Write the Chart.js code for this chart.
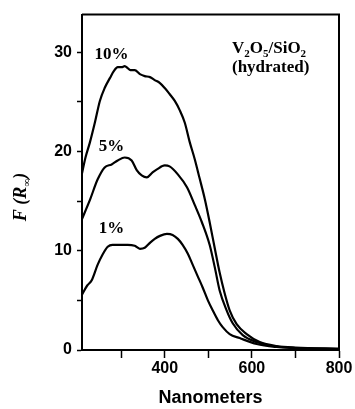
<!DOCTYPE html>
<html>
<head>
<meta charset="utf-8">
<script src="https://cdn.jsdelivr.net/npm/chart.js@4.4.1/dist/chart.umd.min.js"></script>
<style>
  html, body { margin: 0; padding: 0; background: #fff; }
  #wrap { width: 355px; height: 409px; }
</style>
</head>
<body>
<div id="wrap"><canvas id="myChart" width="355" height="409"></canvas></div>
<script>
// wavelength (nm) and F(R), one pair of arrays per loading
let nm10 = [209, 218, 228, 240, 251, 262, 274, 283, 292, 301, 308, 315, 321, 331, 343, 354, 366, 377, 389, 400, 411, 423, 434, 446, 457, 469, 480, 492, 503, 515, 526, 537, 549, 565, 588, 618, 657, 700, 800];
let f10 = [17.6, 19.4, 20.9, 23.0, 25.1, 26.4, 27.4, 28.1, 28.5, 28.5, 28.6, 28.4, 28.2, 28.2, 27.8, 27.6, 27.5, 27.2, 26.9, 26.4, 25.8, 25.1, 24.2, 22.9, 21.0, 19.2, 17.3, 15.2, 12.9, 10.2, 7.8, 5.8, 4.0, 2.6, 1.6, 0.8, 0.4, 0.25, 0.15];

let nm5 = [209, 228, 246, 262, 278, 292, 308, 324, 336, 347, 359, 372, 382, 400, 411, 430, 451, 469, 485, 503, 515, 526, 542, 556, 579, 611, 648, 700, 800];
let f5 = [13.1, 15.1, 17.2, 18.4, 18.7, 19.1, 19.4, 19.1, 18.1, 17.6, 17.4, 17.9, 18.2, 18.6, 18.5, 17.7, 16.4, 14.6, 12.9, 10.6, 8.3, 6.0, 4.0, 2.7, 1.5, 0.8, 0.4, 0.2, 0.1];

let nm1 = [209, 222, 232, 246, 257, 269, 280, 292, 315, 331, 343, 354, 366, 377, 389, 405, 418, 430, 441, 453, 464, 476, 487, 499, 510, 522, 533, 549, 572, 611, 657, 710, 800];
let f1 = [5.5, 6.5, 7.0, 8.6, 9.6, 10.4, 10.6, 10.6, 10.6, 10.5, 10.2, 10.3, 10.8, 11.2, 11.5, 11.7, 11.6, 11.2, 10.6, 9.7, 8.6, 7.4, 6.3, 5.0, 4.0, 3.0, 2.3, 1.6, 1.2, 0.6, 0.3, 0.15, 0.1];

let seriesNames = ["10%", "5%", "1%"];
let xTicks = [300, 400, 500, 600, 700, 800];
let yTicks = [0, 5, 10, 15, 20, 25, 30];

var sansFont = "'Liberation Sans', Arial, sans-serif";
var serifFont = "'Liberation Serif', 'Times New Roman', serif";

function pts(xs, ys) {
    return xs.map((x, i) => ({ x: x, y: ys[i] }));
}

function lineSet(name, xs, ys) {
    return {
        label: name,
        data: pts(xs, ys),
        borderColor: '#000',
        borderWidth: 2.2,
        pointRadius: 0,
        fill: false,
        tension: 0.4,
        cubicInterpolationMode: 'monotone'
    };
}

// frame, curve labels, sample name and rotated y title
let decorPlugin = {
    id: 'decor',
    afterDraw(chart) {
        let ctx = chart.ctx;
        let a = chart.chartArea;
        let xs = chart.scales.x;
        let ys = chart.scales.y;
        ctx.save();
        ctx.strokeStyle = '#000';
        ctx.lineWidth = 2;
        ctx.beginPath();
        ctx.moveTo(a.left, a.top);
        ctx.lineTo(a.right, a.top);
        ctx.lineTo(a.right, a.bottom);
        ctx.stroke();

        ctx.fillStyle = '#000';
        ctx.textBaseline = 'alphabetic';
        ctx.textAlign = 'center';
        ctx.font = 'bold 17px ' + serifFont;
        let cx = xs.getPixelForValue(278);
        ctx.fillText(seriesNames[0], cx, ys.getPixelForValue(29.3));
        ctx.fillText(seriesNames[1], cx, ys.getPixelForValue(20.1));
        ctx.fillText(seriesNames[2], cx, ys.getPixelForValue(11.8));

        // V2O5/SiO2 with subscripts
        ctx.textAlign = 'left';
        let x = 232, base = 53;
        let parts = [["V", 0], ["2", 1], ["O", 0], ["5", 1], ["/SiO", 0], ["2", 1]];
        parts.forEach(p => {
            ctx.font = p[1] ? 'bold 11px ' + serifFont : 'bold 17px ' + serifFont;
            ctx.fillText(p[0], x, p[1] ? base + 4 : base);
            x += ctx.measureText(p[0]).width;
        });
        ctx.font = 'bold 17px ' + serifFont;
        ctx.fillText("(hydrated)", 232, 72);

        // y title F(R∞)
        ctx.translate(26, 197);
        ctx.rotate(-Math.PI / 2);
        let t1 = "F (R", t2 = "\u221E", t3 = ")";
        ctx.font = 'italic bold 18px ' + serifFont;
        let w1 = ctx.measureText(t1).width;
        let w3 = ctx.measureText(t3).width;
        ctx.font = 'italic bold 11px ' + serifFont;
        let w2 = ctx.measureText(t2).width;
        let start = -(w1 + w2 + w3) / 2;
        ctx.font = 'italic bold 18px ' + serifFont;
        ctx.fillText(t1, start, 0);
        ctx.font = 'italic bold 11px ' + serifFont;
        ctx.fillText(t2, start + w1, 4);
        ctx.font = 'italic bold 18px ' + serifFont;
        ctx.fillText(t3, start + w1 + w2, 0);
        ctx.restore();
    }
};

let myChart = document.getElementById("myChart").getContext('2d');

let chart1 = new Chart(myChart, {
    type: 'line',
    data: {
        datasets: [
            lineSet(seriesNames[0], nm10, f10),
            lineSet(seriesNames[1], nm5, f5),
            lineSet(seriesNames[2], nm1, f1)
        ]
    },
    options: {
        responsive: false,
        animation: false,
        events: [],
        layout: { padding: { left: 0, top: 10, right: 16, bottom: 0 } },
        plugins: {
            legend: { display: false },
            tooltip: { enabled: false }
        },
        scales: {
            x: {
                type: 'linear',
                min: 210,
                max: 800,
                afterBuildTicks: s => { s.ticks = xTicks.map(v => ({ value: v })); },
                afterFit: s => { s.height = 59; },
                border: { color: '#000', width: 2 },
                grid: { drawOnChartArea: false, tickLength: 8, tickColor: '#000', tickWidth: 1.5 },
                ticks: {
                    color: '#000',
                    padding: 1,
                    maxRotation: 0,
                    autoSkip: false,
                    font: { family: sansFont, size: 16, weight: 'bold' },
                    callback: v => (v % 200 === 0 ? v : '')
                },
                title: {
                    display: true,
                    text: 'Nanometers',
                    color: '#000',
                    padding: { top: 2, bottom: 0 },
                    font: { family: sansFont, size: 18, weight: 'bold' }
                }
            },
            y: {
                type: 'linear',
                min: 0,
                max: 33.8,
                afterBuildTicks: s => { s.ticks = yTicks.map(v => ({ value: v })); },
                afterFit: s => { s.width = 82; },
                border: { color: '#000', width: 2 },
                grid: { drawOnChartArea: false, tickLength: 5, tickColor: '#000', tickWidth: 1.5 },
                ticks: {
                    color: '#000',
                    padding: 5,
                    autoSkip: false,
                    font: { family: sansFont, size: 16, weight: 'bold' },
                    callback: v => (v % 10 === 0 ? v : '')
                }
            }
        }
    },
    plugins: [decorPlugin]
});
</script>
</body>
</html>
